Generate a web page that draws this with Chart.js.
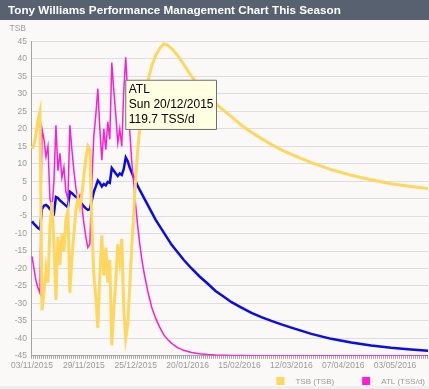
<!DOCTYPE html>
<html>
<head>
<meta charset="utf-8">
<script src="https://cdn.jsdelivr.net/npm/chart.js@4.4.0/dist/chart.umd.min.js"></script>
<style>
  html, body { margin: 0; padding: 0; background: #faf9f7; overflow: hidden; }
</style>
</head>
<body>
<canvas id="pmc" width="429" height="389"></canvas>
<script>
// season starts 03/11/2015, x values are days since then
const seasonStart = [2015, 10, 3];
const days = [0,1,2,3,4,5,6,7,8,9,10,11,12,13,14,15,16,17,18,19,20,21,22,23,24,25,26,27,28,29,
  30,31,32,33,34,35,36,37,38,39,40,41,42,43,44,45,46,47,48,49,50,51,52,53,54,55,56,
  58,60,62,64,66,68,70,73,76,80,84,88,92,96,100,105,110,115,120,125,130,140,150,160,170,180,190,200];

// TSB (form)
const tsb = [14.3,15.5,18.5,22.5,25,-32,-27,-20,-24,-8,-1,-13,-29,-11,-19,-10,-15,-6,-3.5,-27,
  -17,-10,-3.5,0,-2.5,1,6.5,11.5,15,14,-7,-22,-28,-37,-22,-10.5,-22,-14,-24,-17.5,
  -42,-32,-23.5,-13,-18,-11.5,-31.5,-40,-36,-25,-14,-4,6,14,20,24.5,28,
  33.5,38,41,43,44.3,44,43,41,38.5,35,32,29.5,27.3,25.3,23.5,21,19,17.2,15.5,14,12.7,10.3,8.3,6.7,5.4,4.3,3.5,2.8];

// ATL (TSS/d)
const atl = [39.9,35,30.1,27.3,25.2,91,86.8,79.8,84,63,58.8,70,92.4,74.2,81.2,71.4,75.6,65.8,63,92.4,
  82.6,74.2,67.2,63,64.4,60.2,53.2,47.6,43.4,44.8,70,88.2,96.6,107.1,91,78.4,91,82.6,93.8,86.8,
  117.6,106.4,96.6,85.4,91,84,106.4,119.7,104,90,78,69,60,52,45,39,34,
  26,19.5,15,11.5,8.5,6.5,5,3.3,2.2,1.3,0.8,0.5,0.3,0.2,0.1,0.1,0,0,0,0,0,0,0,0,0,0,0,0];

// CTL (TSS/d)
const ctl = [53.9,52.9,52.1,51.2,50.7,58.8,60.2,60.5,59.9,58.8,58,57.1,63.7,63.3,62.3,61.6,60.9,60.2,59.5,65.8,
  65.2,64.4,63.7,63,61.9,60.9,59.9,59.1,58.5,58.8,62.3,65.8,67.9,70.3,69.3,67.9,68.9,68.3,69.7,69.3,
  75.3,74.2,73.1,72.1,73.1,72.5,74.9,79.5,78,75.5,73.5,71.5,70,68,66.5,65,63.5,
  60.5,57.5,54.5,52,49.5,47,44.5,41.5,38.5,35,31.8,29,26,23.8,21.5,19.3,17.2,15.5,14,12.6,11.3,8.8,6.8,5.3,4.1,3.2,2.5,1.9];

const legendNames = ['TSB (TSB)', 'ATL (TSS/d)'];
const labelEvery = 26;
const tipDay = 47;
const weekDays = ['Sun','Mon','Tue','Wed','Thu','Fri','Sat'];
const smallFont = '"Liberation Sans", Arial, sans-serif';

function dayDate(d) {
  return new Date(seasonStart[0], seasonStart[1], seasonStart[2] + d);
}
function fmtDay(d) {
  const t = dayDate(d);
  return String(t.getDate()).padStart(2, '0') + '/' + String(t.getMonth() + 1).padStart(2, '0') + '/' + t.getFullYear();
}
function pts(arr) {
  return days.map((d, i) => ({x: d, y: arr[i]}));
}

const decor = {
  id: 'decor',
  beforeDraw(chart) {
    const c = chart.ctx;
    c.save();
    c.fillStyle = '#faf9f7';
    c.fillRect(0, 0, chart.width, chart.height);
    c.fillStyle = '#efefef';
    c.fillRect(0, chart.height - 3, chart.width, 3);
    c.fillStyle = '#57616f';
    c.fillRect(0, 0, chart.width, 20);
    c.restore();
  },
  afterDraw(chart) {
    const c = chart.ctx, ys = chart.scales.y;
    c.save();
    c.font = '8.5px ' + smallFont;
    c.fillStyle = '#9a9a9a';
    c.textAlign = 'right';
    c.fillText('TSB', ys.right - 5, ys.top - 10.5);
    // legend, right aligned
    c.font = '8px ' + smallFont;
    c.textAlign = 'left';
    let x = chart.width - 4;
    const base = chart.height - 5;
    chart.data.datasets.filter(ds => legendNames.includes(ds.label)).reverse().forEach(ds => {
      x -= c.measureText(ds.label).width;
      c.fillStyle = '#9a9a9a';
      c.fillText(ds.label, x, base);
      x -= 19;
      c.fillStyle = ds.borderColor;
      c.fillRect(x, base - 7, 8, 8);
      x -= 28;
    });
    c.restore();
  }
};

const chart = new Chart(document.getElementById('pmc'), {
  type: 'line',
  data: {
    datasets: [
      {label: 'TSB (TSB)', data: pts(tsb), borderColor: '#ffd65e', borderWidth: 3, yAxisID: 'y'},
      {label: 'ATL (TSS/d)', data: pts(atl), borderColor: '#ff1cd4', borderWidth: 1.5, yAxisID: 'y2'},
      {label: 'CTL (TSS/d)', data: pts(ctl), borderColor: '#0a0aee', borderWidth: 2.5, yAxisID: 'y2'}
    ]
  },
  options: {
    responsive: false,
    animation: false,
    events: [],
    devicePixelRatio: 1,
    elements: {point: {radius: 0, hoverRadius: 0}, line: {tension: 0, fill: false}},
    layout: {padding: {left: 8, right: 0, top: 0, bottom: 16}},
    scales: {
      x: {
        type: 'linear', min: -0.5, max: 198.5, z: 1,
        grid: {drawOnChartArea: false, color: '#a4a4a4', tickLength: 3},
        border: {color: '#a4a4a4'},
        afterBuildTicks: s => {
          const t = [];
          for (let v = 0; v <= 198; v++) t.push({value: v});
          s.ticks = t;
        },
        ticks: {
          autoSkip: false, maxRotation: 0, minRotation: 0, padding: 2,
          color: '#9a9a9a', font: {family: smallFont, size: 8.5},
          callback: v => (v % labelEvery === 0) ? fmtDay(v) : ''
        }
      },
      y: {
        min: -45, max: 45,
        grid: {color: '#dedede', drawTicks: false},
        border: {color: '#a4a4a4'},
        ticks: {stepSize: 5, padding: 4, color: '#9a9a9a', font: {family: smallFont, size: 8.5}},
        afterFit: s => { s.width = 23; }
      },
      y2: {display: false, min: 0, max: 126}
    },
    plugins: {
      legend: {display: false},
      title: {
        display: true, align: 'start', color: '#ffffff',
        text: 'Tony Williams Performance Management Chart This Season',
        font: {family: smallFont, size: 11.7, weight: 'bold'},
        padding: {top: 4, bottom: 23.5}
      },
      tooltip: {
        backgroundColor: '#ffffe1', borderColor: '#707070', borderWidth: 1,
        cornerRadius: 0, caretSize: 0, caretPadding: 23,
        xAlign: 'left', yAlign: 'top', displayColors: false,
        titleColor: '#000', bodyColor: '#000',
        titleFont: {family: smallFont, size: 12, weight: 'normal'},
        bodyFont: {family: smallFont, size: 12},
        titleSpacing: 0.5, titleMarginBottom: 0.5,
        padding: {left: 3, right: 3, top: 2, bottom: 3},
        callbacks: {
          title: items => [items[0].dataset.label.split(' ')[0],
            weekDays[dayDate(items[0].parsed.x).getDay()] + ' ' + fmtDay(items[0].parsed.x)],
          label: item => item.parsed.y.toFixed(1) + ' TSS/d'
        }
      }
    }
  },
  plugins: [decor]
});

chart.tooltip.setActiveElements([{datasetIndex: 1, index: days.indexOf(tipDay)}], {x: 0, y: 0});
chart.draw();
</script>
</body>
</html>
